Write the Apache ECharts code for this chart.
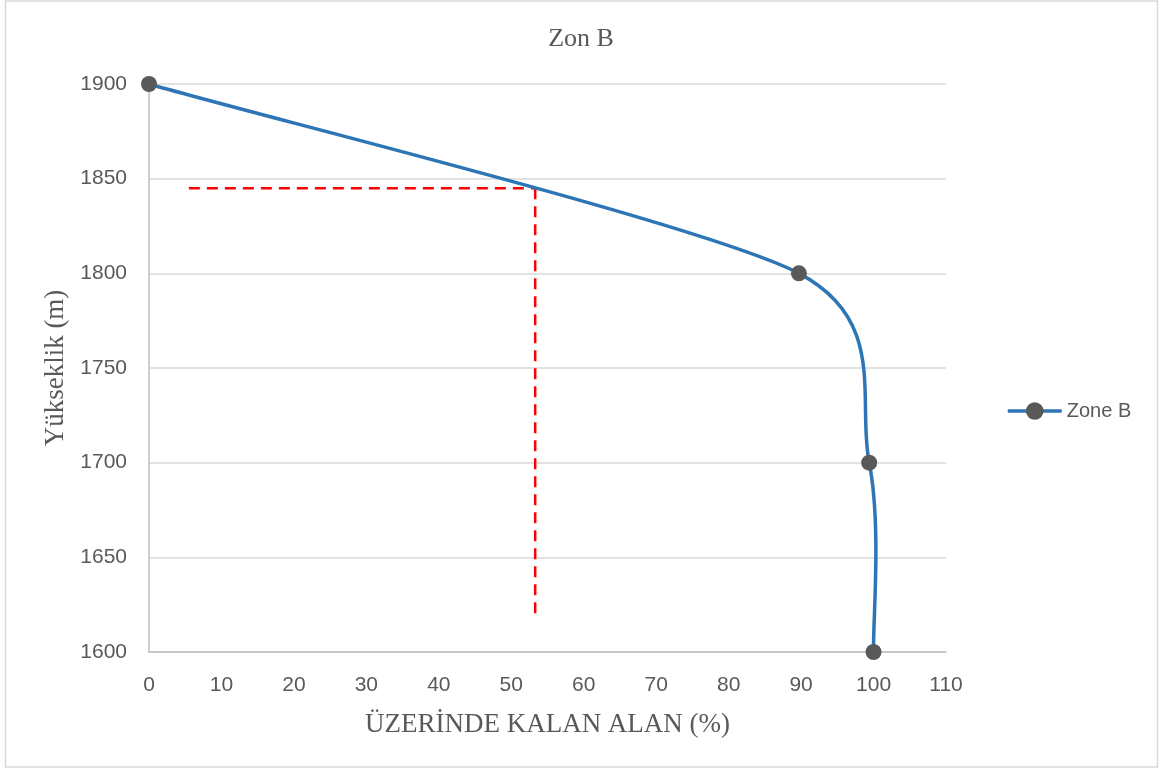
<!DOCTYPE html>
<html>
<head>
<meta charset="utf-8">
<script src="https://cdn.jsdelivr.net/npm/echarts@6/dist/echarts.min.js"></script>
<style>
html,body{margin:0;padding:0;background:#fff;}
#c{width:1162px;height:769px;}
</style>
</head>
<body>
<div id="c"></div>
<script>
// Data
var seriesName = 'Zone B';
var areaPct = [0, 89.7, 99.4, 100];
var elevation = [1900, 1800, 1700, 1600];
var dashHX = [5.5, 53.3];
var dashHY = [1845, 1845];
var dashVX = [53.3, 53.3];
var dashVY = [1845, 1617];
var xTicks = [0, 10, 20, 30, 40, 50, 60, 70, 80, 90, 100, 110];
var yTicks = [1600, 1650, 1700, 1750, 1800, 1850, 1900];

function pairs(xs, ys) { return xs.map(function (x, i) { return [x, ys[i]]; }); }

var chart = echarts.init(document.getElementById('c'), null, { renderer: 'canvas' });
var grey = '#595959';
var blue = '#2E75B6';
var sans = '"Liberation Sans", Arial, sans-serif';
var serif = '"Liberation Serif", "Times New Roman", serif';

function dist(a, b) { var dx = a[0] - b[0], dy = a[1] - b[1]; return Math.sqrt(dx * dx + dy * dy); }

// Spreadsheet-style smoothed curve through the data points (pixel coords from the axes)
function smoothPath(pts) {
  var n = pts.length;
  var d = 'M' + pts[0][0] + ' ' + pts[0][1];
  function ctrl(i) {
    var p0 = pts[Math.max(0, i - 1)], p1 = pts[i], p2 = pts[Math.min(n - 1, i + 1)];
    var d02 = dist(p0, p2), d01 = dist(p0, p1), d12 = dist(p1, p2);
    var f = 1 / 6;
    if (i > 0 && i < n - 1 && d02 > 0) {
      if (d02 * f > d12 / 2) f = Math.min(f, d12 / (2 * d02));
      if (d02 * f > d01 / 2) f = Math.min(f, d01 / (2 * d02));
    }
    var vx = (p2[0] - p0[0]) * f, vy = (p2[1] - p0[1]) * f;
    return { inn: [p1[0] - vx, p1[1] - vy], out: [p1[0] + vx, p1[1] + vy] };
  }
  var cs = [];
  for (var i = 0; i < n; i++) cs.push(ctrl(i));
  for (var j = 0; j < n - 1; j++) {
    var a = cs[j].out, b = cs[j + 1].inn, e = pts[j + 1];
    d += ' C' + a[0] + ' ' + a[1] + ' ' + b[0] + ' ' + b[1] + ' ' + e[0] + ' ' + e[1];
  }
  return d;
}

chart.setOption({
  animation: false,
  backgroundColor: '#fff',
  title: {
    text: 'Zon B',
    left: 'center',
    top: 21,
    textStyle: { fontFamily: serif, fontSize: 26, fontWeight: 'normal', color: grey }
  },
  graphic: [{
    type: 'rect',
    shape: { x: 5.5, y: 1, width: 1152, height: 766 },
    style: { fill: 'none', stroke: '#d9d9d9', lineWidth: 1.5 },
    silent: true
  }],
  legend: {
    data: [seriesName],
    left: 1001,
    top: 396,
    itemWidth: 54,
    itemHeight: 22,
    lineStyle: { color: blue, width: 3.5, opacity: 1 },
    itemStyle: { color: grey },
    textStyle: { fontFamily: sans, fontSize: 20, color: grey }
  },
  grid: { left: 149, right: 216, top: 84, bottom: 117 },
  xAxis: {
    type: 'value',
    min: xTicks[0],
    max: xTicks[xTicks.length - 1],
    interval: 10,
    name: 'ÜZERİNDE KALAN ALAN (%)',
    nameLocation: 'middle',
    nameGap: 59,
    nameTextStyle: { fontFamily: serif, fontSize: 27, color: grey },
    axisLine: { show: true, lineStyle: { color: '#bfbfbf', width: 1.5 } },
    axisTick: { show: false },
    axisLabel: { fontFamily: sans, fontSize: 21, color: grey, margin: 23 },
    splitLine: { show: false }
  },
  yAxis: {
    type: 'value',
    min: yTicks[0],
    max: yTicks[yTicks.length - 1],
    interval: 50,
    name: 'Yükseklik (m)',
    nameLocation: 'middle',
    nameRotate: 90,
    nameGap: 69,
    nameTextStyle: { fontFamily: serif, fontSize: 27, color: grey },
    axisLine: { show: true, lineStyle: { color: '#bfbfbf', width: 1.5 } },
    axisTick: { show: false },
    axisLabel: { fontFamily: sans, fontSize: 21, color: grey, margin: 22, formatter: function (v) { return String(v); } },
    splitLine: { show: true, lineStyle: { color: '#d9d9d9', width: 1.5 } }
  },
  series: [
    {
      name: 'curve',
      type: 'custom',
      data: pairs(areaPct, elevation),
      encode: { x: 0, y: 1 },
      renderItem: function (params, api) {
        if (params.dataIndex !== 0) return null;
        var pts = areaPct.map(function (x, i) { return api.coord([x, elevation[i]]); });
        return {
          type: 'path',
          shape: { pathData: smoothPath(pts) },
          style: { fill: 'none', stroke: blue, lineWidth: 3.5 },
          z2: 1
        };
      },
      z: 3,
      silent: true
    },
    {
      name: seriesName,
      type: 'line',
      data: pairs(areaPct, elevation),
      symbol: 'circle',
      symbolSize: 16,
      lineStyle: { color: blue, width: 0, opacity: 0 },
      itemStyle: { color: grey },
      z: 4
    },
    {
      name: 'dashH',
      type: 'line',
      data: pairs(dashHX, dashHY),
      symbol: 'none',
      lineStyle: { color: '#FF0000', width: 2.5, type: [11, 7] },
      z: 2
    },
    {
      name: 'dashV',
      type: 'line',
      data: pairs(dashVX, dashVY),
      symbol: 'none',
      lineStyle: { color: '#FF0000', width: 2.5, type: [11, 7] },
      z: 2
    }
  ]
});
</script>
</body>
</html>
